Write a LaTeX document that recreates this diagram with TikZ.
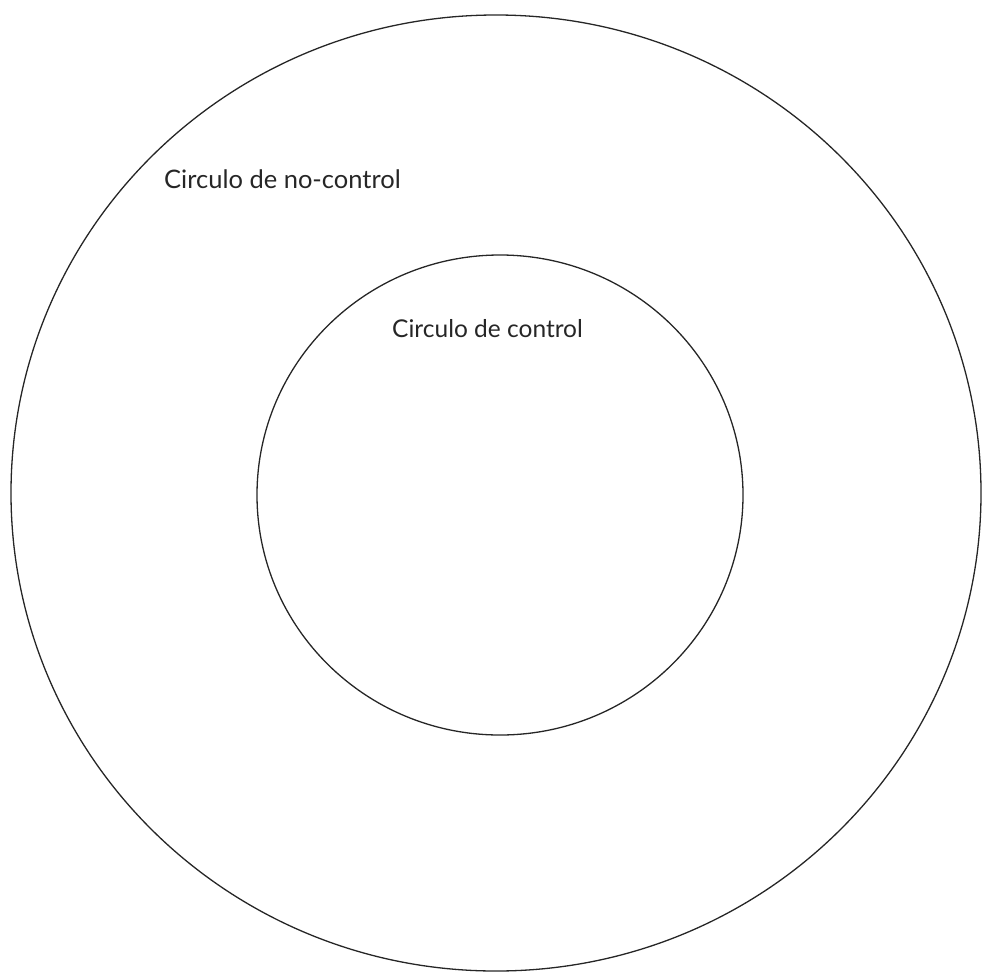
\documentclass[tikz,border=0pt]{standalone}
\usepackage{fontspec}
\setmainfont{Lato}
\begin{document}
\begin{tikzpicture}[x=1pt,y=-1pt,
  ring/.style={draw=black!85,line width=1.3pt},
  lbl/.style={font=\fontsize{24.5}{28}\selectfont,text=black!85,inner sep=0pt,anchor=base west}]
\useasboundingbox (0,0) rectangle (985,975);
\draw[ring] (496,493) ellipse [x radius=485, y radius=478];
\draw[ring] (500,495) ellipse [x radius=243, y radius=240];
\node[lbl,font=\fontsize{25.5}{28}\selectfont] (outer) at (164,188) {Circulo de no-control};
\node[lbl] (inner) at (392,337) {Circulo de control};
\end{tikzpicture}
\end{document}
